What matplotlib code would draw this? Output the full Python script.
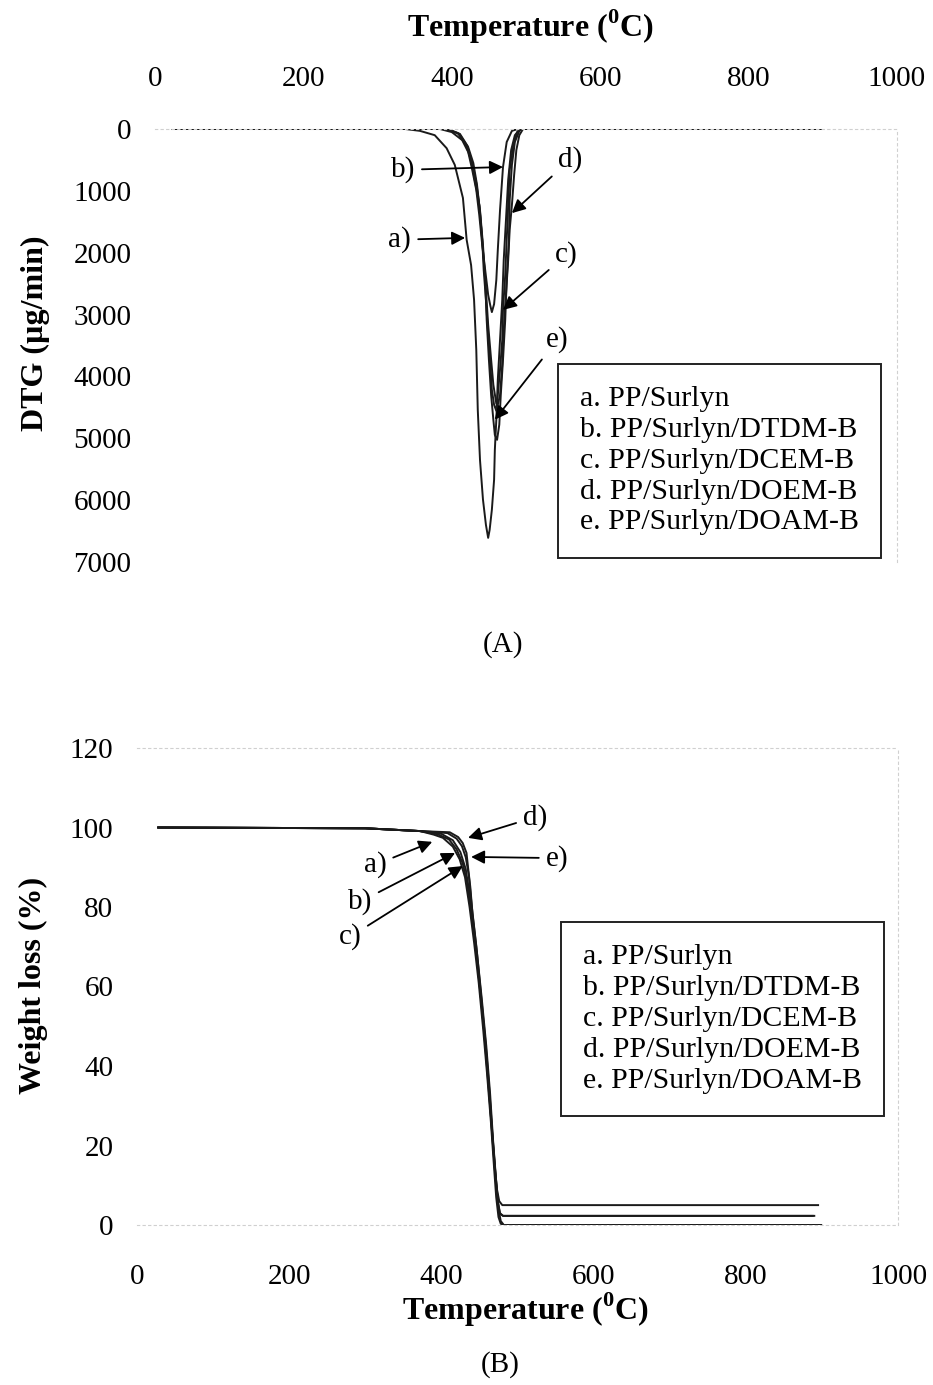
import matplotlib
matplotlib.use("Agg")
import matplotlib.pyplot as plt

plt.rcParams["font.family"] = ["Liberation Serif", "DejaVu Serif"]
plt.rcParams["mathtext.fontset"] = "custom"
plt.rcParams["mathtext.rm"] = "Liberation Serif"
plt.rcParams["mathtext.bf"] = "Liberation Serif:bold"

SAMPLES = ["a. PP/Surlyn", "b. PP/Surlyn/DTDM-B", "c. PP/Surlyn/DCEM-B",
           "d. PP/Surlyn/DOEM-B", "e. PP/Surlyn/DOAM-B"]
TEMP_TICKS = [0, 200, 400, 600, 800, 1000]
DTG_TICKS = [0, 1000, 2000, 3000, 4000, 5000, 6000, 7000]
WL_TICKS = [0, 20, 40, 60, 80, 100, 120]

# ---- DTG curves: temperature (C) vs DTG (ug/min) ----
dtg_t_a = [24, 337, 357, 377, 393, 404, 415, 420, 426, 430, 433, 435, 438, 442, 446, 449,
           451, 454, 457, 458, 460, 462, 465, 468, 470, 473, 476, 480, 485, 492, 900]
dtg_a = [0, 0, 30, 100, 310, 580, 1115, 1790, 2200, 2760, 3570, 4540, 5350, 5990, 6400, 6610,
         6480, 6155, 5670, 5190, 4700, 4055, 3410, 2760, 2115, 1470, 820, 340, 100, 0, 0]

dtg_t_b = [24, 384, 400, 414, 422, 427, 433, 437, 441, 445, 449, 452, 454,
           457, 460, 462, 465, 469, 474, 481, 489, 900]
dtg_b = [0, 0, 50, 180, 370, 630, 985, 1390, 1875, 2280, 2680, 2860, 2960,
         2830, 2440, 1955, 1310, 615, 210, 30, 0, 0]

dtg_t_c = [24, 391, 408, 419, 426, 431, 437, 441, 443, 446, 449, 452, 454, 457, 460,
           462, 465, 468, 469, 472, 474, 476, 478, 483, 488, 493, 900]
dtg_c = [0, 0, 65, 260, 500, 825, 1230, 1790, 2280, 2760, 3330, 3810, 4215, 4460, 4555,
         4300, 3890, 3410, 2925, 2360, 1790, 1230, 660, 260, 50, 0, 0]

dtg_t_d = [24, 395, 411, 422, 429, 434, 438, 442, 446, 449, 453, 456, 460, 462,
           465, 468, 470, 473, 476, 478, 481, 484, 487, 491, 496, 900]
dtg_d = [0, 0, 80, 290, 550, 905, 1340, 1955, 2600, 3165, 3730, 4135, 4440, 4460,
         4300, 3810, 3250, 2680, 2115, 1630, 1230, 745, 340, 100, 0, 0]

dtg_t_e = [24, 392, 410, 421, 427, 433, 438, 442, 445, 447, 450, 453, 456, 458, 461,
           464, 466, 469, 472, 474, 477, 478, 481, 485, 491, 495, 900]
dtg_e = [0, 0, 80, 275, 530, 870, 1310, 1875, 2440, 3085, 3730, 4300, 4700, 4945, 5025,
         4780, 4300, 3730, 3085, 2440, 1790, 1150, 580, 210, 30, 0, 0]

# ---- TG curves: temperature (C) vs weight (%) ----
tg_t_a = [28, 300, 372, 390, 402, 415, 424, 431, 437, 443, 449, 455, 460, 465, 469, 472, 475, 478, 482, 899]
tg_a = [100, 99.8, 99.1, 98.2, 97.4, 95.2, 92.0, 87.5, 80, 71, 61, 49, 38, 26, 15, 7, 2, 0.3, 0, 0]

tg_t_b = [28, 300, 372, 395, 410, 420, 428, 434, 440, 446, 452, 458, 463, 467, 471, 474, 477, 481, 888]
tg_b = [100, 99.8, 99.1, 98.3, 97.0, 94.5, 91.0, 86.0, 78, 68, 57, 45, 33, 22, 12, 6, 3, 2.3, 2.3]

tg_t_c = [28, 300, 372, 400, 415, 425, 432, 438, 444, 450, 456, 461, 466, 470, 473, 476, 480, 895]
tg_c = [100, 99.8, 99.1, 98.4, 96.8, 93.8, 89.5, 82, 72, 61, 49, 37, 25, 15, 9, 6, 5.0, 5.0]

tg_t_d = [28, 300, 372, 411, 422, 428, 433, 435, 438, 441, 447, 453, 459, 464, 468, 472, 475, 478, 482, 899]
tg_d = [100, 99.8, 99.1, 98.8, 97.6, 96.1, 93.6, 90, 85, 78, 68, 57, 45, 33, 21, 11, 4, 1, 0, 0]

tg_t_e = [28, 300, 372, 408, 420, 427, 432, 436, 440, 446, 452, 458, 463, 467, 471, 474, 477, 481, 890]
tg_e = [100, 99.8, 99.1, 98.6, 97.2, 95.3, 92.5, 88, 80, 70, 58, 46, 34, 23, 13, 6, 2.8, 2.3, 2.3]

W, H = 933, 1385
fig = plt.figure(figsize=(W / 100, H / 100), dpi=100)


def frac(x0, y0, x1, y1):
    # pixel box (left, top, right, bottom) -> figure rect
    return [x0 / W, 1 - y1 / H, (x1 - x0) / W, (y1 - y0) / H]


def faint_frame(ax):
    for s in ax.spines.values():
        s.set_color("#d0d0d0")
        s.set_linestyle((0, (2, 3)))
        s.set_linewidth(0.8)
    ax.spines["left"].set_visible(False)
    ax.tick_params(length=0, labelsize=21)


LINE = dict(color="#1a1a1a", lw=1.4)
ARROW = dict(arrowstyle="-|>", color="black", lw=1.3, mutation_scale=20,
             shrinkA=3, shrinkB=0)
BOX = dict(boxstyle="square,pad=0.75", fc="white", ec="#222222", lw=1.4)

# ---------------- (A) DTG ----------------
ax1 = fig.add_axes(frac(155, 129, 897, 562))
for t, v in [(dtg_t_a, dtg_a), (dtg_t_b, dtg_b), (dtg_t_c, dtg_c),
             (dtg_t_d, dtg_d), (dtg_t_e, dtg_e)]:
    ax1.plot(t, v, **LINE)
ax1.set_xlim(0, 1000)
ax1.set_ylim(7000, 0)
ax1.set_xticks(TEMP_TICKS)
ax1.set_yticks(DTG_TICKS)
ax1.xaxis.tick_top()
faint_frame(ax1)
ax1.spines["bottom"].set_visible(False)
ax1.tick_params(axis="x", pad=27)
ax1.tick_params(axis="y", pad=17)

for txt, xy, xytext in [("a)", (418, 1760), (330, 1790)),
                        ("b)", (469, 615), (334, 660)),
                        ("c)", (469, 2925), (554, 2035)),
                        ("d)", (481, 1360), (559, 500)),
                        ("e)", (458, 4700), (542, 3410))]:
    ax1.annotate(txt, xy=xy, xytext=xytext, ha="center", va="center",
                 fontsize=21, arrowprops=ARROW)

ax1.text((580 - 155) / 0.742, 5365, "\n".join(SAMPLES),
         fontsize=21.5, ha="left", va="center", linespacing=1.24,
         bbox=BOX, zorder=1)

fig.text(530 / W, 1 - 27 / H, r"Temperature ($^{\mathbf{0}}$C)", fontsize=23,
         fontweight="bold", ha="center", va="center")
fig.text(35 / W, 1 - 333 / H, "DTG (µg/min)", fontsize=23, fontweight="bold",
         rotation=90, ha="center", va="center")
fig.text(503 / W, 1 - 645 / H, "(A)", fontsize=21, ha="center", va="center")

# ---------------- (B) TG ----------------
ax2 = fig.add_axes(frac(137, 748, 898, 1225))
for t, v in [(tg_t_a, tg_a), (tg_t_b, tg_b), (tg_t_c, tg_c),
             (tg_t_d, tg_d), (tg_t_e, tg_e)]:
    ax2.plot(t, v, **LINE)
ax2.set_xlim(0, 1000)
ax2.set_ylim(0, 120)
ax2.set_xticks(TEMP_TICKS)
ax2.set_yticks(WL_TICKS)
faint_frame(ax2)
ax2.tick_params(axis="x", pad=28)
ax2.tick_params(axis="y", pad=17)

for txt, xy, xytext in [("a)", (388, 96.4), (313, 90.6)),
                        ("b)", (418, 93.6), (293, 81.3)),
                        ("c)", (428, 90.3), (280, 72.5)),
                        ("d)", (435, 97.4), (523, 102.6)),
                        ("e)", (439, 92.6), (552, 92.3))]:
    ax2.annotate(txt, xy=xy, xytext=xytext, ha="center", va="center",
                 fontsize=21, arrowprops=ARROW)

ax2.text((583 - 137) / 0.761, (1225 - 1019) / 3.975, "\n".join(SAMPLES),
         fontsize=21.5, ha="left", va="center", linespacing=1.24,
         bbox=BOX, zorder=1)

fig.text(525 / W, 1 - 1310 / H, r"Temperature ($^{\mathbf{0}}$C)", fontsize=23,
         fontweight="bold", ha="center", va="center")
fig.text(33 / W, 1 - 985 / H, "Weight loss (%)", fontsize=23, fontweight="bold",
         rotation=90, ha="center", va="center")
fig.text(500 / W, 1 - 1365 / H, "(B)", fontsize=21, ha="center", va="center")

fig.savefig("out.png", dpi=100)
